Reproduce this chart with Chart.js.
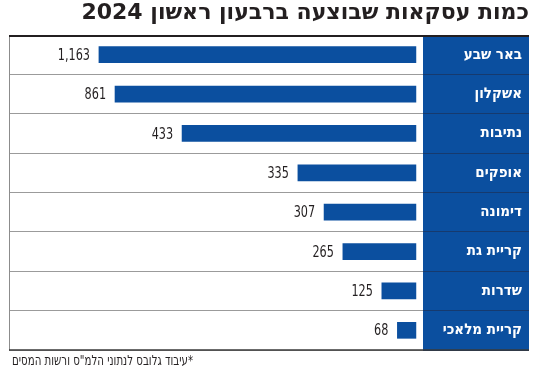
<!DOCTYPE html>
<html lang="he">
<head>
<meta charset="utf-8">
<title>כמות עסקאות שבוצעה ברבעון ראשון 2024</title>
<script src="https://cdn.jsdelivr.net/npm/chart.js@4.4.1/dist/chart.umd.min.js"></script>
<style>
  html, body { margin: 0; padding: 0; background: #fff; }
  #chart { display: block; }
</style>
</head>
<body>
<canvas id="chart" width="550" height="375" dir="rtl"></canvas>
<script>
// נתונים
const cities = ['באר שבע', 'אשקלון', 'נתיבות', 'אופקים', 'דימונה', 'קריית גת', 'שדרות', 'קריית מלאכי'];
const deals = [1163, 861, 433, 335, 307, 265, 125, 68];
// אורך העמודות כפי שצוירו במקור (בחלק מהשורות לא תואם את המספר שמודפס)
const barLengths = [1163, 1104, 858, 433, 337, 268, 125, 68];
const titleText = 'כמות עסקאות שבוצעה ברבעון ראשון 2024';
const sourceText = '*עיבוד גלובס לנתוני הלמ"ס ורשות המסים';

const BLUE = '#0b4f9f';
const HEB = "'DejaVu Sans Condensed', 'Liberation Sans', sans-serif";
const PANEL_W = 106;
const LABEL_GAP = 7; // רווח בין שם העיר לקצה הימני של הפס

// רקע כחול לשמות הערים
const panelBg = {
    id: 'panelBg',
    beforeDraw(chart) {
        const { ctx, chartArea } = chart;
        ctx.save();
        ctx.fillStyle = BLUE;
        ctx.fillRect(chartArea.right, chartArea.top, PANEL_W, chartArea.bottom - chartArea.top);
        ctx.restore();
    }
};

// מספרים ליד העמודות (פונט צר - מכווצים קצת)
const valueLabels = {
    id: 'valueLabels',
    afterDatasetsDraw(chart) {
        const { ctx } = chart;
        ctx.save();
        ctx.font = '16px ' + HEB;
        ctx.fillStyle = '#231f20';
        ctx.textAlign = 'right';
        ctx.textBaseline = 'middle';
        chart.getDatasetMeta(0).data.forEach((bar, i) => {
            const txt = deals[i].toLocaleString('en-US');
            const w = ctx.measureText(txt).width * 0.78;
            ctx.fillText(txt, bar.x - 9, bar.y + 1, w);
        });
        ctx.restore();
    }
};

// מסגרת ומקור
const frame = {
    id: 'frame',
    afterDraw(chart) {
        const { ctx, chartArea } = chart;
        const l = chartArea.left, r = chartArea.right + PANEL_W;
        ctx.save();
        ctx.strokeStyle = '#8c8c8c';
        ctx.lineWidth = 1;
        ctx.beginPath();
        ctx.moveTo(l + 0.5, chartArea.top);
        ctx.lineTo(l + 0.5, chartArea.bottom);
        ctx.stroke();
        ctx.strokeStyle = '#231f20';
        ctx.lineWidth = 2;
        ctx.beginPath();
        ctx.moveTo(l, chartArea.top + 1);
        ctx.lineTo(r, chartArea.top + 1);
        ctx.stroke();
        ctx.strokeStyle = '#3a3a3a';
        ctx.lineWidth = 1.5;
        ctx.beginPath();
        ctx.moveTo(l, chartArea.bottom);
        ctx.lineTo(r, chartArea.bottom);
        ctx.stroke();

        ctx.font = '14px ' + HEB;
        ctx.fillStyle = '#231f20';
        ctx.direction = 'rtl';
        ctx.textAlign = 'left';
        ctx.textBaseline = 'middle';
        ctx.fillText(sourceText, l + 3, 361, 181);
        ctx.restore();
    }
};

new Chart(document.getElementById('chart'), {
    type: 'bar',
    data: {
        labels: cities,
        datasets: [{
            data: barLengths,
            backgroundColor: BLUE,
            barThickness: 16
        }]
    },
    options: {
        indexAxis: 'y',
        responsive: false,
        animation: false,
        layout: { padding: { left: 9, right: 21, top: 0, bottom: 25 } },
        scales: {
            x: {
                display: false,
                reverse: true,
                min: -26,
                max: 1493
            },
            y: {
                position: 'right',
                weight: 0,
                border: { display: false },
                grid: {
                    color: '#9b9b9b',
                    lineWidth: 1,
                    drawTicks: true,
                    tickLength: PANEL_W,
                    tickColor: '#163a6e',
                    offset: true
                },
                ticks: {
                    color: '#ffffff',
                    font: { family: HEB, size: 15, weight: 'bold' },
                    crossAlign: 'far'
                },
                afterFit(scale) {
                    scale.width = PANEL_W - LABEL_GAP;
                }
            },
            // ציר ריק - רק כדי להשאיר רווח מימין לשמות הערים
            gap: {
                type: 'linear',
                position: 'right',
                weight: 1,
                grid: { display: false },
                border: { display: false },
                ticks: { display: false },
                afterFit(scale) {
                    scale.width = LABEL_GAP;
                }
            }
        },
        plugins: {
            legend: { display: false },
            tooltip: { enabled: false },
            title: {
                display: true,
                text: titleText,
                align: 'end',
                color: '#231f20',
                font: { family: "'DejaVu Sans', sans-serif", size: 22, weight: 'bold' },
                padding: { top: 0, bottom: 8.6 }
            }
        }
    },
    plugins: [panelBg, valueLabels, frame]
});
</script>
</body>
</html>
